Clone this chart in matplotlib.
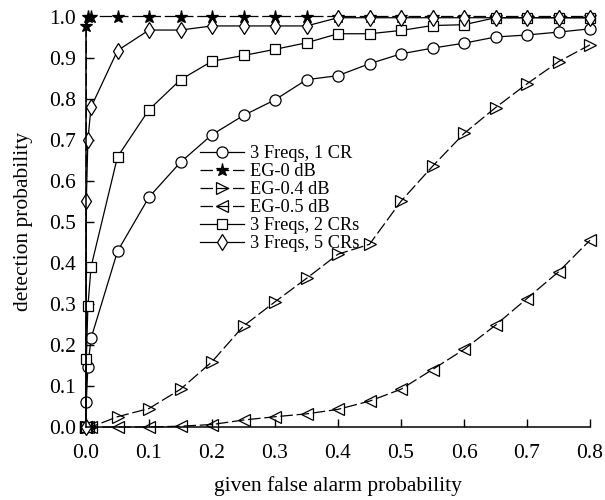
import matplotlib
matplotlib.use("Agg")
import matplotlib.pyplot as plt

plt.rcParams['font.family'] = ['Liberation Serif', 'DejaVu Serif']

# false alarm probability grid (near-zero points + 0.05 steps)
pfa_low = [0.0, 0.0005, 0.003, 0.008]
pfa_main = [0.05, 0.1, 0.15, 0.2, 0.25, 0.3, 0.35, 0.4, 0.45, 0.5,
            0.55, 0.6, 0.65, 0.7, 0.75, 0.8]
pfa = pfa_low + pfa_main

# detection probability
freq3_cr1 = [0.0, 0.062, 0.147, 0.216,
             0.428, 0.56, 0.645, 0.712, 0.759, 0.797, 0.846, 0.856, 0.885,
             0.909, 0.923, 0.935, 0.95, 0.955, 0.962, 0.97]
eg_0db = [0.0, 0.978, 1.0, 1.0,
          1.0, 1.0, 1.0, 1.0, 1.0, 1.0, 1.0, 1.0, 1.0,
          1.0, 1.0, 1.0, 1.0, 1.0, 1.0, 1.0]
eg_04db = [0.0, 0.0, 0.0, 0.0,
           0.025, 0.045, 0.092, 0.159, 0.246, 0.305, 0.362, 0.421, 0.445,
           0.55, 0.635, 0.715, 0.778, 0.836, 0.89, 0.931]
eg_05db = [0.0, 0.0, 0.0, 0.0,
           0.0, 0.0, 0.002, 0.006, 0.017, 0.025, 0.032, 0.043, 0.063,
           0.092, 0.14, 0.189, 0.248, 0.313, 0.378, 0.455]
freq3_cr2 = [0.0, 0.165, 0.294, 0.39,
             0.658, 0.773, 0.846, 0.891, 0.905, 0.92, 0.936, 0.958, 0.958,
             0.966, 0.978, 0.98, 0.997, 0.997, 0.997, 0.997]
freq3_cr5 = [0.0, 0.55, 0.70, 0.779,
             0.917, 0.967, 0.967, 0.977, 0.977, 0.977, 0.977, 0.997, 0.997,
             0.997, 0.997, 0.997, 0.997, 0.997, 0.997, 0.997]

labels = ['3 Freqs, 1 CR', 'EG-0 dB', 'EG-0.4 dB', 'EG-0.5 dB',
          '3 Freqs, 2 CRs', '3 Freqs, 5 CRs']

dash = (0, (10, 3))
styles = [
    dict(ls='-', marker='o', ms=8, mfc='white'),
    dict(ls=dash, marker='*', ms=9.5, mfc='black'),
    dict(ls=dash, marker='>', ms=8.5, mfc='none'),
    dict(ls=dash, marker='<', ms=8.5, mfc='none'),
    dict(ls='-', marker='s', ms=7.5, mfc='white'),
    dict(ls='-', marker='d', ms=8.5, mfc='white'),
]
series = [freq3_cr1, eg_0db, eg_04db, eg_05db, freq3_cr2, freq3_cr5]

fig = plt.figure(figsize=(6.05, 5.0), dpi=100)
ax = fig.add_axes([86 / 605, 73 / 500, 504 / 605, 410.5 / 500])

for y, lab, st in zip(series, labels, styles):
    ax.plot(pfa, y, color='black', lw=0.9, mec='black', mew=0.9,
            label=lab, clip_on=False, **st)

ax.set_xlim(0, 0.8)
ax.set_ylim(0, 1.0)
ax.set_xticks([i / 10 for i in range(9)])
ax.set_yticks([i / 10 for i in range(11)])
ax.xaxis.set_major_formatter(matplotlib.ticker.FormatStrFormatter('%.1f'))
ax.yaxis.set_major_formatter(matplotlib.ticker.FormatStrFormatter('%.1f'))
ax.tick_params(direction='in', length=6, width=1.0, labelsize=15.5)
ax.tick_params(axis='x', pad=12)
ax.tick_params(axis='y', pad=7)
ax.spines['top'].set_visible(False)
ax.spines['right'].set_visible(False)
ax.spines['left'].set_linewidth(1.1)
ax.spines['bottom'].set_linewidth(1.1)

ax.set_xlabel('given false alarm probability', fontsize=15.5, labelpad=10)
ax.set_ylabel('detection probability', fontsize=15.5, labelpad=12)

ax.legend(loc='upper left', bbox_to_anchor=(200 / 605, 1 - 145 / 500),
          bbox_transform=fig.transFigure, frameon=False, fontsize=13.2,
          borderpad=0, borderaxespad=0, labelspacing=0.06,
          handlelength=2.4, handletextpad=0.35)

fig.savefig('out.png', dpi=100)
